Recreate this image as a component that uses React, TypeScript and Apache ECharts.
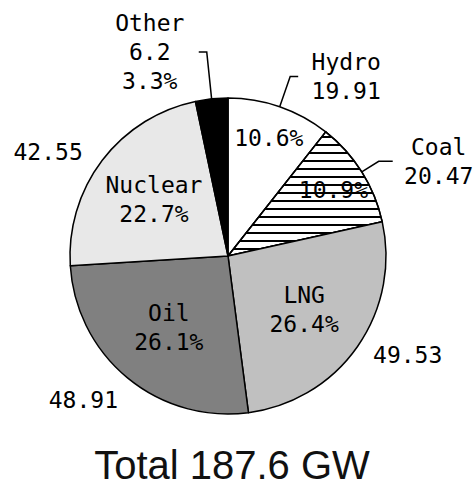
import React, { useEffect, useRef } from 'react';
import * as echarts from 'echarts';

// ---- data ----
const categories = ['Hydro', 'Coal', 'LNG', 'Oil', 'Nuclear', 'Other'];
const capacityGW = [19.91, 20.47, 49.53, 48.91, 42.55, 6.2];
// which fields appear in each slice's outside label
const outsideFields = [
  ['name', 'value'],
  ['name', 'value'],
  ['value'],
  ['value'],
  ['value'],
  ['name', 'value', 'percent'],
];
// which ring carries the inside label: 'outer' = percent only, 'inner' = name + percent
const insideRing = ['outer', 'outer', 'inner', 'inner', 'inner', 'none'];
const totalPrefix = 'Total';
const totalUnit = 'GW';

// ---- styles ----
const sliceColors = ['#ffffff', '#ffffff', '#c0c0c0', '#808080', '#e8e8e8', '#000000'];
const outsideLayout = [
  { length: 32, length2: 8, dist: 12, line: true },
  { length: 20, length2: 14, dist: 10, line: true },
  { length: 15, length2: 0, dist: 2, line: false },
  { length: 28.5, length2: 0, dist: -10, line: false },
  { length: 14, length2: 0, dist: 7, line: false },
  { length: 47, length2: 8, dist: 13, line: true },
];
const CENTER = [228, 256];
const R = 158;
const MONO = '"DejaVu Sans Mono", monospace';
const FS = 23;
const LH = 29;

export default function App() {
  const ref = useRef<HTMLDivElement>(null);
  useEffect(() => {
    if (!ref.current) return;
    const chart = echarts.init(ref.current, undefined, { renderer: 'svg' });
    const total = capacityGW.reduce((a, b) => a + b, 0);

    const fieldText = (p: any, f: string) =>
      f === 'name' ? p.name : f === 'value' ? String(p.value) : p.percent + '%';

    const transparentItem = { color: 'rgba(0,0,0,0)', borderWidth: 0 };

    const ringSeries = (ring: string, outerR: number) => ({
      type: 'pie',
      center: CENTER,
      radius: [0, outerR],
      startAngle: 90,
      clockwise: true,
      silent: true,
      percentPrecision: 1,
      avoidLabelOverlap: false,
      emphasis: { disabled: true },
      itemStyle: transparentItem,
      labelLine: { show: false },
      label: {
        position: 'inside',
        color: '#000',
        fontFamily: MONO,
        fontSize: FS,
        lineHeight: LH,
        textBorderWidth: 0,
        formatter: (p: any) => (ring === 'inner' ? `${p.name}\n${p.percent}%` : `${p.percent}%`),
      },
      data: categories.map((name, i) => ({
        name,
        value: capacityGW[i],
        label: { show: insideRing[i] === ring },
      })),
    });

    chart.setOption({
      animation: false,
      backgroundColor: '#ffffff',
      title: {
        text: `${totalPrefix} ${total.toFixed(1)} ${totalUnit}`,
        left: 232,
        top: 450,
        padding: 0,
        textAlign: 'center',
        textStyle: {
          fontFamily: '"Liberation Sans", Arial, sans-serif',
          fontSize: 40,
          lineHeight: 30,
          fontWeight: 'normal',
          color: '#111',
        },
      },
      series: [
        {
          type: 'pie',
          center: CENTER,
          radius: R,
          startAngle: 90,
          clockwise: true,
          silent: true,
          percentPrecision: 1,
          avoidLabelOverlap: false,
          emphasis: { disabled: true },
          itemStyle: { borderColor: '#000', borderWidth: 1.5 },
          label: {
            position: 'outside',
            color: '#000',
            fontFamily: MONO,
            fontSize: FS,
            lineHeight: LH,
            formatter: (p: any) =>
              outsideFields[p.dataIndex].map((f) => `{c|${fieldText(p, f)}}`).join('\n'),
            rich: {
              c: {
                width: 72,
                align: 'center',
                fontFamily: MONO,
                fontSize: FS,
                lineHeight: LH,
                color: '#000',
              },
            },
          },
          labelLine: { lineStyle: { color: '#000', width: 1.5 }, smooth: false },
          data: categories.map((name, i) => ({
            name,
            value: capacityGW[i],
            itemStyle: {
              color: sliceColors[i],
              ...(name === 'Coal'
                ? {
                    decal: {
                      symbol: 'rect',
                      symbolSize: 1,
                      symbolKeepAspect: false,
                      color: '#000',
                      dashArrayX: [1, 0],
                      dashArrayY: [1.5, 5.5],
                      rotation: 0,
                    },
                  }
                : {}),
            },
            label: { distanceToLabelLine: outsideLayout[i].dist },
            labelLine: {
              show: outsideLayout[i].line,
              length: outsideLayout[i].length,
              length2: outsideLayout[i].length2,
            },
          })),
        },
        ringSeries('outer', 243),
        ringSeries('inner', 180),
      ],
    });
    return () => chart.dispose();
  }, []);
  return (
    <div
      ref={ref}
      style={{ position: 'fixed', left: 0, top: 0, width: 474, height: 487, background: '#fff' }}
    />
  );
}
